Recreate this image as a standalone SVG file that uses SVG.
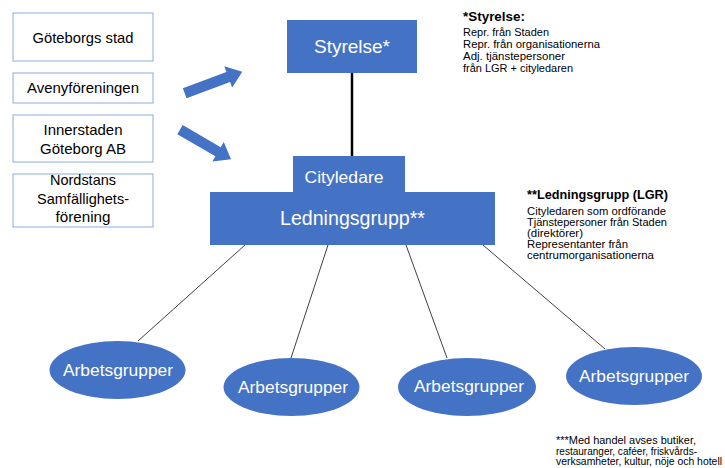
<svg xmlns="http://www.w3.org/2000/svg" width="725" height="468" viewBox="0 0 725 468">
<style>
.box{fill:#ffffff;stroke:#8faadc;stroke-width:1}
.blue{fill:#4472c4}
.bt{font-family:"Liberation Sans",Arial,sans-serif;fill:#000000;text-anchor:middle;font-size:15px}
.wt{font-family:"Liberation Sans",Arial,sans-serif;fill:#ffffff;text-anchor:middle}
.note{font-family:"Liberation Sans",Arial,sans-serif;fill:#000000;font-size:10px}
.nh{font-family:"Liberation Sans",Arial,sans-serif;fill:#000000;font-size:13px;font-weight:bold}
.thin{stroke:#404040;stroke-width:1;fill:none}
</style>
<rect width="725" height="468" fill="#ffffff"/>

<g id="goteborgs-stad">
<rect class="box" x="13" y="13" width="140" height="48"/>
<text class="bt" x="83" y="43" textLength="101" lengthAdjust="spacingAndGlyphs">Göteborgs stad</text>
</g>
<g id="avenyforeningen">
<rect class="box" x="13" y="73" width="140" height="30"/>
<text class="bt" x="83" y="93" textLength="112" lengthAdjust="spacingAndGlyphs">Avenyföreningen</text>
</g>
<g id="innerstaden">
<rect class="box" x="13" y="115" width="140" height="47"/>
<text class="bt" x="83" y="135" textLength="79" lengthAdjust="spacingAndGlyphs">Innerstaden</text>
<text class="bt" x="83" y="154" textLength="86" lengthAdjust="spacingAndGlyphs">Göteborg AB</text>
</g>
<g id="nordstans">
<rect class="box" x="13" y="174" width="140" height="53"/>
<text class="bt" x="83" y="185" textLength="66" lengthAdjust="spacingAndGlyphs">Nordstans</text>
<text class="bt" x="83" y="204" textLength="92" lengthAdjust="spacingAndGlyphs">Samfällighets-</text>
<text class="bt" x="83" y="222" textLength="55" lengthAdjust="spacingAndGlyphs">förening</text>
</g>

<g id="arrows">
<polygon class="blue" transform="translate(184.7,93.3) rotate(-20.6)" points="0,-5.3 46.5,-5.3 46.5,-11.3 61.5,0 46.5,11.3 46.5,5.3 0,5.3"/>
<polygon class="blue" transform="translate(180,129.7) rotate(30.1)" points="0,-5.3 44,-5.3 44,-11.3 59,0 44,11.3 44,5.3 0,5.3"/>
</g>

<g id="connectors">
<line x1="352" y1="73" x2="352" y2="157" stroke="#000000" stroke-width="2.5"/>
<line class="thin" x1="245" y1="245" x2="138" y2="341"/>
<line class="thin" x1="328" y1="245" x2="291" y2="358"/>
<line class="thin" x1="406" y1="245" x2="447" y2="358"/>
<line class="thin" x1="483" y1="245" x2="605" y2="349"/>
</g>

<g id="styrelse">
<rect class="blue" x="287" y="20" width="130" height="53"/>
<text class="wt" x="352" y="53" font-size="19" textLength="76" lengthAdjust="spacingAndGlyphs">Styrelse*</text>
</g>

<g id="ledningsgrupp">
<rect class="blue" x="293" y="156" width="112" height="37"/>
<rect class="blue" x="210" y="192" width="285" height="53"/>
<text class="wt" x="344" y="183" font-size="16.5" textLength="79" lengthAdjust="spacingAndGlyphs">Cityledare</text>
<text class="wt" x="352.5" y="225" font-size="20" textLength="145" lengthAdjust="spacingAndGlyphs">Ledningsgrupp**</text>
</g>

<g id="arbetsgrupper-1">
<ellipse class="blue" cx="117.5" cy="370" rx="68" ry="29"/>
<text class="wt" x="118" y="375.5" font-size="17" textLength="110" lengthAdjust="spacingAndGlyphs">Arbetsgrupper</text>
</g>
<g id="arbetsgrupper-2">
<ellipse class="blue" cx="291.5" cy="387" rx="68" ry="29"/>
<text class="wt" x="293" y="392.5" font-size="17" textLength="110" lengthAdjust="spacingAndGlyphs">Arbetsgrupper</text>
</g>
<g id="arbetsgrupper-3">
<ellipse class="blue" cx="467" cy="387" rx="69" ry="29"/>
<text class="wt" x="469" y="391.5" font-size="17" textLength="110" lengthAdjust="spacingAndGlyphs">Arbetsgrupper</text>
</g>
<g id="arbetsgrupper-4">
<ellipse class="blue" cx="634" cy="376" rx="68" ry="29"/>
<text class="wt" x="634" y="381.5" font-size="17" textLength="110" lengthAdjust="spacingAndGlyphs">Arbetsgrupper</text>
</g>

<g id="note-styrelse">
<text class="nh" x="463" y="21" textLength="62" lengthAdjust="spacingAndGlyphs">*Styrelse:</text>
<text class="note" x="463" y="36" textLength="86" lengthAdjust="spacingAndGlyphs">Repr. från Staden</text>
<text class="note" x="463" y="48" textLength="137" lengthAdjust="spacingAndGlyphs">Repr. från organisationerna</text>
<text class="note" x="463" y="60" textLength="102" lengthAdjust="spacingAndGlyphs">Adj. tjänstepersoner</text>
<text class="note" x="463" y="72" textLength="110" lengthAdjust="spacingAndGlyphs">från LGR + cityledaren</text>
</g>

<g id="note-lgr">
<text class="nh" x="527" y="199" textLength="141" lengthAdjust="spacingAndGlyphs">**Ledningsgrupp (LGR)</text>
<text class="note" x="527" y="215" textLength="139" lengthAdjust="spacingAndGlyphs">Cityledaren som ordförande</text>
<text class="note" x="527" y="226" textLength="140" lengthAdjust="spacingAndGlyphs">Tjänstepersoner från Staden</text>
<text class="note" x="527" y="237" textLength="56" lengthAdjust="spacingAndGlyphs">(direktörer)</text>
<text class="note" x="527" y="248" textLength="101" lengthAdjust="spacingAndGlyphs">Representanter från</text>
<text class="note" x="527" y="259" textLength="127" lengthAdjust="spacingAndGlyphs">centrumorganisationerna</text>
</g>

<g id="note-handel">
<text class="note" x="556" y="444" textLength="140" lengthAdjust="spacingAndGlyphs">***Med handel avses butiker,</text>
<text class="note" x="556" y="455" textLength="141" lengthAdjust="spacingAndGlyphs">restauranger, caféer, friskvårds-</text>
<text class="note" x="556" y="465" textLength="166" lengthAdjust="spacingAndGlyphs">verksamheter, kultur, nöje och hotell</text>
</g>
</svg>
